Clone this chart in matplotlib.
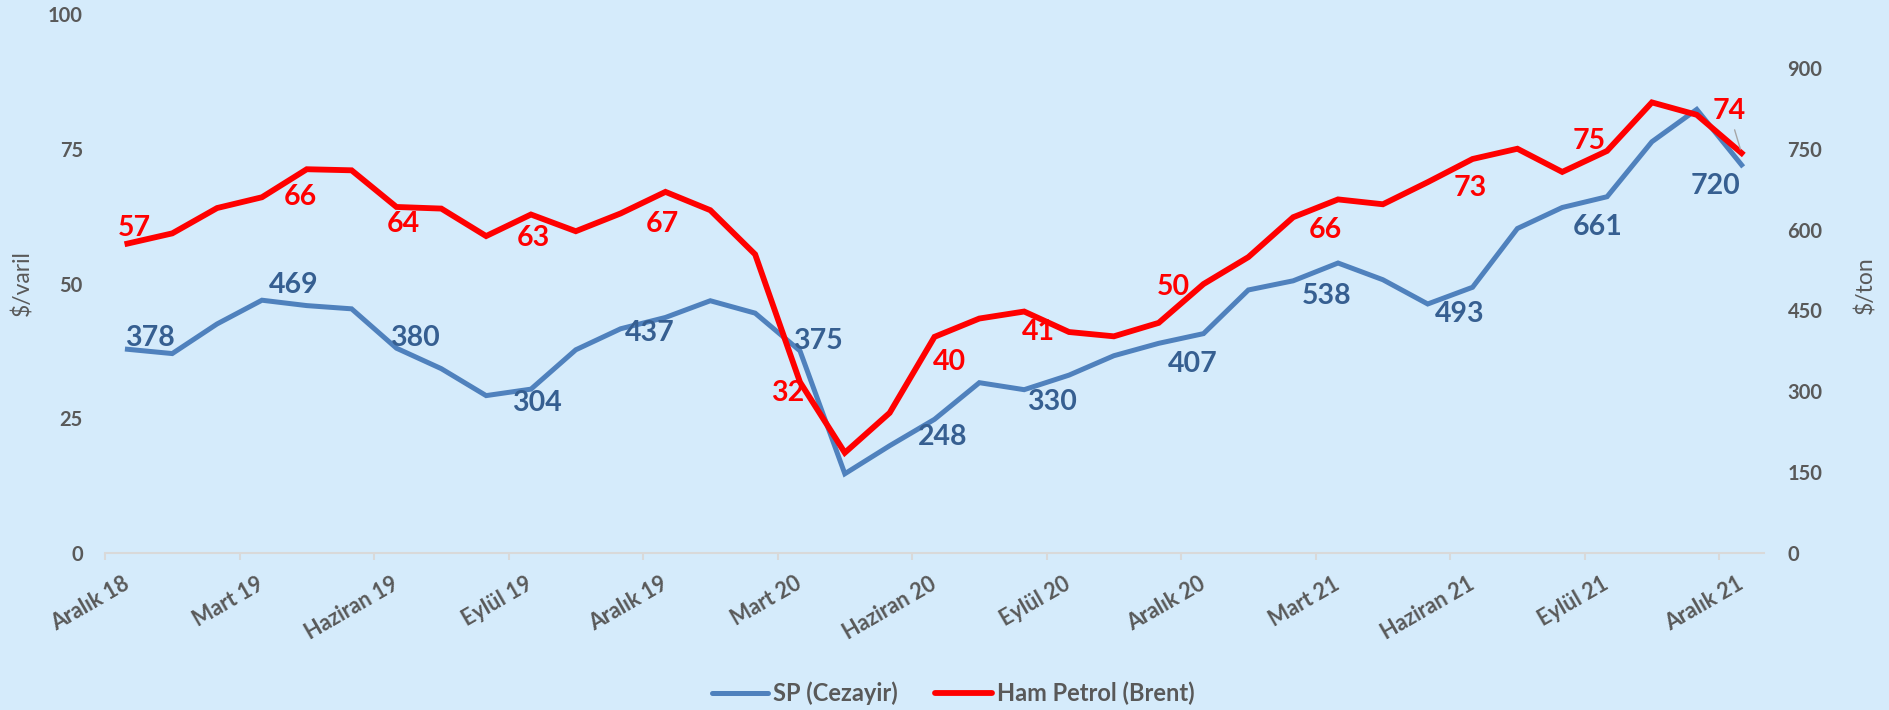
import numpy as np
import matplotlib.pyplot as plt
from matplotlib.lines import Line2D

# monthly data, Aralik 2018 - Aralik 2021
brent = [57.4, 59.3, 64.0, 66.0, 71.2, 71.0, 64.2, 63.9, 58.8, 62.8, 59.7, 63.0,
         67.0, 63.6, 55.4, 31.7, 18.6, 26.0, 40.1, 43.5, 44.8, 41.0, 40.2, 42.7,
         49.9, 54.9, 62.3, 65.6, 64.7, 68.8, 73.1, 75.0, 70.7, 74.6, 83.6, 81.3, 74.2]
sp_cezayir = [378, 370, 425, 469, 459, 453, 380, 342, 292, 304, 377, 416,
              437, 468, 445, 375, 147, 199, 248, 316, 303, 330, 366, 389,
              407, 488, 505, 538, 507, 462, 493, 602, 641, 661, 763, 823, 720]
tick_labels = ["Aralık 18", "Mart 19", "Haziran 19", "Eylül 19", "Aralık 19",
               "Mart 20", "Haziran 20", "Eylül 20", "Aralık 20", "Mart 21",
               "Haziran 21", "Eylül 21", "Aralık 21"]

# label offsets (points) for the quarterly data labels
brent_off = [(5, 11), (28, 0), (5, -12), (1.5, -17), (-2, -23), (-9, -8), (11, -18),
             (-22, 0), (-22, -2), (-9, -22), (-2, -21), (-13, 7), (-9, 30)]
sp_off = [(16, 8), (23, 11), (13, 7), (4, -10), (-11, -11), (13, 7), (6, -13),
          (-12, -19), (-8, -22), (-8, -24), (-9, -19), (-7, -22), (-19, -15)]

BG = "#D5EBFB"
GREY = "#595959"
BLUE = "#4F81BD"
BLUE_TXT = "#365F91"
RED = "#FF0000"

plt.rcParams['font.family'] = ['Lato', 'DejaVu Sans']

x = np.arange(len(brent))
q = x[::3]

fig = plt.figure(figsize=(18.89, 7.10), dpi=100, facecolor=BG)
ax = fig.add_axes([105 / 1889, 157 / 710, 1659 / 1889, 539 / 710])
ax2 = ax.twinx()
ax.set_zorder(ax2.get_zorder() + 1)
ax.patch.set_visible(False)
ax2.set_facecolor(BG)

ax2.plot(x, sp_cezayir, color=BLUE, lw=3.6, solid_joinstyle='miter')
ax.plot(x, brent, color=RED, lw=4.2, solid_joinstyle='miter')

for k, i in enumerate(q):
    ax2.annotate(f"{sp_cezayir[i]:.0f}", (i, sp_cezayir[i]), xytext=sp_off[k],
                 textcoords='offset points', ha='center', va='center',
                 fontsize=20.5, fontweight='bold', color=BLUE_TXT)
    arrow = None
    if i == q[-1]:
        arrow = dict(arrowstyle='-', color='#A6A6A6', lw=1, shrinkA=2, shrinkB=3)
    ax.annotate(f"{brent[i]:.0f}", (i, brent[i]), xytext=brent_off[k],
                textcoords='offset points', ha='center', va='center',
                fontsize=20.5, fontweight='bold', color=RED, arrowprops=arrow)

ax.set_xlim(-0.5, len(brent) - 0.5)
ax.set_ylim(0, 100)
ax2.set_ylim(0, 1000)
ax.set_yticks([0, 25, 50, 75, 100])
ax2.set_yticks([0, 150, 300, 450, 600, 750, 900])

ax.set_xticks(q)
ax.set_xticklabels(tick_labels, rotation=30, ha='right', va='center',
                   rotation_mode='anchor')
ax.set_xticks(q - 0.5, minor=True)
ax.tick_params(axis='x', which='major', length=0, pad=21, labelsize=15.5,
               labelcolor=GREY)
ax.tick_params(axis='x', which='minor', length=5, width=1.5, color='#D9D9D9')
ax.tick_params(axis='y', length=0, pad=16, labelsize=14.5, labelcolor=GREY)
ax2.tick_params(axis='y', length=0, pad=17, labelsize=14.5, labelcolor=GREY)
for lab in ax.get_xticklabels() + ax.get_yticklabels() + ax2.get_yticklabels():
    lab.set_fontweight('bold')

for a in (ax, ax2):
    for s in ('top', 'left', 'right', 'bottom'):
        a.spines[s].set_visible(False)
ax.spines['bottom'].set_visible(True)
ax.spines['bottom'].set_color('#D9D9D9')
ax.spines['bottom'].set_linewidth(1.5)

fig.text(22 / 1889, 1 - 283 / 710, "\\$/varil", rotation=90, ha='center',
         va='center', fontsize=16.5, color=GREY)
fig.text(1865 / 1889, 1 - 285 / 710, "\\$/ton", rotation=90, ha='center',
         va='center', fontsize=16.5, color=GREY)

handles = [Line2D([], [], color=BLUE, lw=3.6, solid_capstyle='round'),
           Line2D([], [], color=RED, lw=4.2, solid_capstyle='round')]
fig.legend(handles, ["SP (Cezayir)", "Ham Petrol (Brent)"], loc='center',
           bbox_to_anchor=(953 / 1889, 1 - 693 / 710), ncol=2, frameon=False,
           prop={'weight': 'bold', 'size': 17}, labelcolor=GREY,
           handlelength=2.4, handletextpad=0.2, columnspacing=1.6)

fig.savefig("out.png", dpi=100, facecolor=BG)
